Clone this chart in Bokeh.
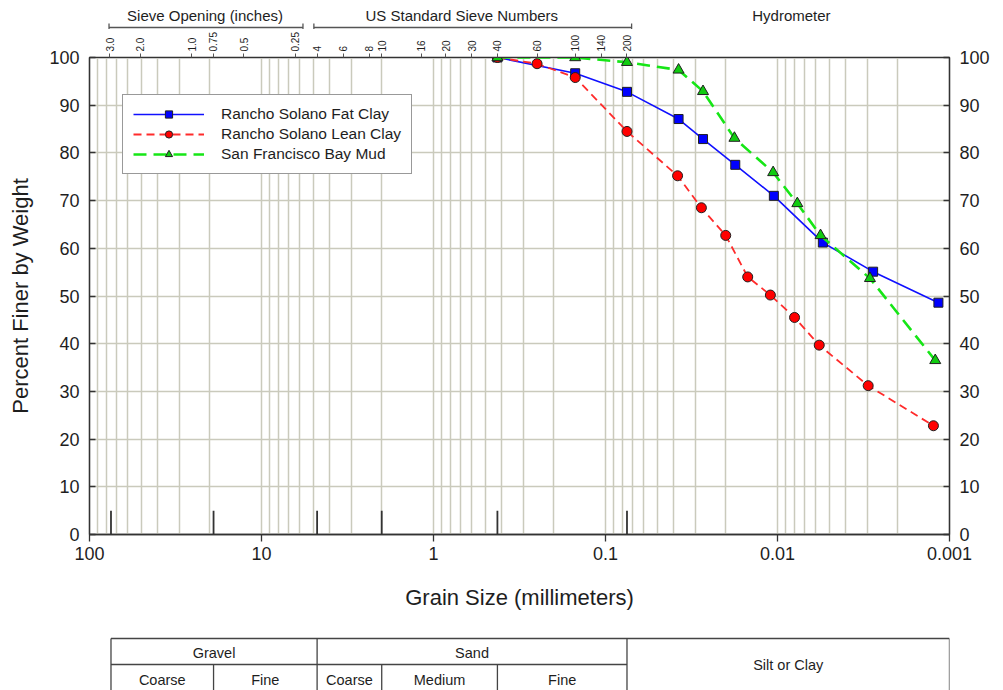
import math
from bokeh.plotting import figure
from bokeh.layouts import column
from bokeh.models import (Range1d, LogAxis, LinearAxis, FixedTicker,
                          CustomJSTickFormatter, Legend, LegendItem)
from bokeh.core.properties import value
from bokeh.embed import file_html
from bokeh.resources import INLINE

FONT = "Liberation Sans"

# ---------------- data ----------------
fat_size = [0.425, 0.15, 0.075, 0.0376, 0.0271, 0.0176, 0.0105, 0.00545, 0.00278, 0.00116]
fat_pct = [100, 96.7, 92.8, 87.1, 82.9, 77.5, 71.0, 61.2, 55.1, 48.6]

lean_size = [0.425, 0.25, 0.15, 0.075, 0.0381, 0.0277, 0.0200, 0.0149, 0.0110,
             0.00796, 0.00572, 0.00297, 0.00124]
lean_pct = [100, 98.7, 95.8, 84.5, 75.2, 68.5, 62.7, 54.0, 50.2, 45.5, 39.7, 31.2, 22.8]

mud_size = [0.425, 0.15, 0.075, 0.0376, 0.0271, 0.0178, 0.0106, 0.00767, 0.00562, 0.00290, 0.00121]
mud_pct = [100, 100, 99.0, 97.4, 92.9, 83.1, 75.9, 69.4, 62.7, 53.7, 36.5]

sieve_mm = [76.2, 50.8, 25.4, 19.05, 12.7, 6.35, 4.75, 3.35, 2.36, 2.0, 1.18,
            0.85, 0.6, 0.425, 0.25, 0.15, 0.106, 0.075]
sieve_labels = ["3.0", "2.0", "1.0", "0.75", "0.5", "0.25", "4", "6", "8", "10",
                "16", "20", "30", "40", "60", "100", "140", "200"]

decade_mm = [100, 10, 1, 0.1, 0.01, 0.001]
decade_labels = ["100", "10", "1", "0.1", "0.01", "0.001"]

pct_ticks = list(range(0, 101, 10))

class_bounds = [75, 19, 4.75, 2.0, 0.425, 0.075]

group_titles = ["Sieve Opening (inches)", "US Standard Sieve Numbers", "Hydrometer"]
group_title_x = [21.3, 0.685, 0.0083]
bracket_from = [77.0, 4.96]
bracket_to = [5.74, 0.0705]

table_top_names = ["Gravel", "Sand", "Silt or Clay"]
table_top_from = [75, 4.75, 0.075]
table_top_to = [4.75, 0.075, 0.001]
table_sub_names = ["Coarse", "Fine", "Coarse", "Medium", "Fine"]
table_sub_from = [75, 19, 4.75, 2.0, 0.425]
table_sub_to = [19, 4.75, 2.0, 0.425, 0.075]

series = [
    ("Rancho Solano Fat Clay", fat_size, fat_pct, "#1010ff", "solid", 1.6, "square", "#0000ff", 9),
    ("Rancho Solano Lean Clay", lean_size, lean_pct, "#ff2b2b", "8 5", 1.8, "circle", "#ff0000", 10),
    ("San Francisco Bay Mud", mud_size, mud_pct, "#16e616", "13 7", 2.6, "triangle", "#10cc10", 11),
]

# ---------------- layout constants ----------------
LEFT, RIGHT = 89, 48
FW = 860
XR = Range1d(100, 0.001)
AX = "#333333"
TXT = "#1e1e1e"
GRID = "#cacabc"


def lookup_formatter(vals, labs):
    return CustomJSTickFormatter(args=dict(vals=vals, labs=labs), code="""
        let best = 0, bd = 1e9;
        for (let i = 0; i < vals.length; i++) {
            const d = Math.abs(Math.log(vals[i]) - Math.log(tick));
            if (d < bd) { bd = d; best = i; }
        }
        return labs[best];
    """)


def bare(height):
    f = figure(x_axis_type="log", x_range=XR, y_range=Range1d(0, height),
               frame_width=FW, frame_height=height, min_border=0,
               min_border_left=LEFT, min_border_right=RIGHT,
               x_axis_location=None, y_axis_location=None,
               toolbar_location=None, output_backend="svg")
    f.outline_line_color = None
    f.xgrid.visible = False
    f.ygrid.visible = False
    return f


# ---------------- header ----------------
HH = 29
hdr = bare(HH)
hdr.text(x=group_title_x, y=[14] * 3, text=group_titles, text_font=value(FONT),
         text_font_size="15px", text_align="center", text_baseline="middle", text_color=TXT)
hdr.segment(x0=bracket_from, y0=[2, 2], x1=bracket_to, y1=[2, 2], line_color="#555555", line_width=1.3)
hdr.segment(x0=bracket_from + bracket_to, y0=[-2] * 4, x1=bracket_from + bracket_to, y1=[6] * 4,
            line_color="#555555", line_width=1.3)

# ---------------- main plot ----------------
p = figure(x_axis_type="log", x_range=XR, y_range=Range1d(0, 100),
           frame_width=FW, frame_height=477,
           min_border_left=LEFT, min_border_right=RIGHT, min_border_top=26, min_border_bottom=87,
           toolbar_location=None, output_backend="svg")
p.outline_line_color = AX
p.outline_line_width = 1.3

grid_vals = [k * 10.0 ** n for n in range(-3, 2) for k in range(1, 10)] + [100]
p.xgrid.ticker = FixedTicker(ticks=grid_vals)
p.xgrid.grid_line_color = GRID
p.xgrid.grid_line_width = 1.5
p.ygrid.ticker = FixedTicker(ticks=pct_ticks)
p.ygrid.grid_line_color = GRID
p.ygrid.grid_line_width = 1.5

xa = p.xaxis[0]
xa.ticker = FixedTicker(ticks=decade_mm)
xa.formatter = lookup_formatter(decade_mm, decade_labels)
xa.major_tick_out = 7
xa.major_tick_in = 0
xa.minor_tick_line_color = None
xa.major_label_standoff = 5
xa.axis_label = "Grain Size (millimeters)"
xa.axis_label_standoff = 22

ya = p.yaxis[0]
ya.ticker = FixedTicker(ticks=pct_ticks)
ya.major_tick_in = 6
ya.major_tick_out = 0
ya.minor_tick_line_color = None
ya.major_label_standoff = 10
ya.axis_label = "Percent Finer by Weight"
ya.axis_label_standoff = 13

ra = LinearAxis(ticker=FixedTicker(ticks=pct_ticks), major_tick_in=6, major_tick_out=0,
                minor_tick_line_color=None, major_label_standoff=10)
p.add_layout(ra, "right")

ta = LogAxis(ticker=FixedTicker(ticks=sieve_mm), formatter=lookup_formatter(sieve_mm, sieve_labels),
             major_tick_out=4, major_tick_in=0, minor_tick_line_color=None,
             major_label_standoff=2, major_label_orientation=math.pi / 2)
p.add_layout(ta, "above")

for ax in [xa, ya, ra]:
    ax.major_label_text_font = FONT
    ax.major_label_text_font_size = "18px"
    ax.major_label_text_color = TXT
    ax.axis_line_color = AX
    ax.axis_line_width = 1.3
    ax.major_tick_line_color = AX
    ax.major_tick_line_width = 1.3
for ax in [xa, ya]:
    ax.axis_label_text_font = FONT
    ax.axis_label_text_font_size = "22px"
    ax.axis_label_text_font_style = "normal"
    ax.axis_label_text_color = TXT
ta.major_label_text_font = FONT
ta.major_label_text_font_size = "10px"
ta.major_label_text_color = TXT
ta.axis_line_color = AX
ta.major_tick_line_color = "#555555"

# class-boundary marks at bottom
p.segment(x0=class_bounds, y0=[0] * len(class_bounds), x1=class_bounds, y1=[5] * len(class_bounds),
          line_color="#333333", line_width=1.8)

items = []
for name, xs, ys, lc, dash, lw, marker, fc, sz in series:
    r1 = p.line(xs, ys, line_color=lc, line_dash=dash, line_width=lw)
    r2 = p.scatter(xs, ys, marker=marker, size=sz, fill_color=fc, line_color="#202020", line_width=1)
    items.append(LegendItem(label=name, renderers=[r1, r2]))

leg = Legend(items=items, location=(33, 360), glyph_width=71, glyph_height=18, label_height=18,
             spacing=2, padding=10, margin=0, label_standoff=17,
             label_text_font=FONT, label_text_font_size="15.5px", label_text_color=TXT,
             border_line_color="#333333", border_line_width=1.2,
             background_fill_color="white", background_fill_alpha=1.0)
p.add_layout(leg)

# ---------------- classification table ----------------
TH = 69
tb = bare(TH)
Y_TOP, Y_MID, Y_BOT = 52, 26, -1
TL = "#444444"
tb.segment(x0=[75, 75, 75], y0=[Y_TOP, Y_MID, Y_BOT], x1=[0.001, 0.075, 0.001], y1=[Y_TOP, Y_MID, Y_BOT],
           line_color=TL, line_width=1.3)
full_v = [75, 4.75, 0.075, 0.001]
tb.segment(x0=full_v, y0=[Y_TOP] * 4, x1=full_v, y1=[Y_BOT] * 4, line_color=TL, line_width=1.3)
sub_v = [19, 2.0, 0.425]
tb.segment(x0=sub_v, y0=[Y_MID] * 3, x1=sub_v, y1=[Y_BOT] * 3, line_color=TL, line_width=1.3)

top_x = [math.sqrt(a * b) for a, b in zip(table_top_from, table_top_to)]
top_y = [38, 38, 26]
tb.text(x=top_x, y=top_y, text=table_top_names, text_font=value(FONT), text_font_size="14.5px",
        text_align="center", text_baseline="middle", text_color=TXT)
sub_x = [math.sqrt(a * b) for a, b in zip(table_sub_from, table_sub_to)]
tb.text(x=sub_x, y=[11] * len(sub_x), text=table_sub_names, text_font=value(FONT), text_font_size="14.5px",
        text_align="center", text_baseline="middle", text_color=TXT)

layout = column(hdr, p, tb, spacing=0)
open("out.html", "w").write(file_html(layout, INLINE))
